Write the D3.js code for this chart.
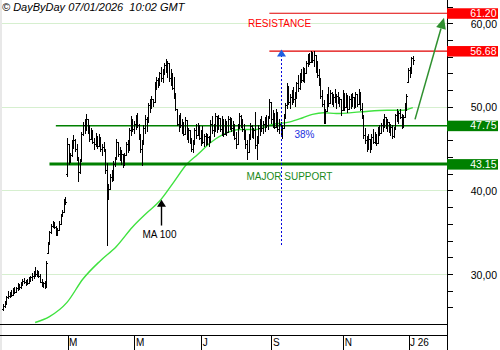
<!DOCTYPE html>
<html>
<head>
<script src="https://d3js.org/d3.v7.min.js"></script>
<style>
  body { margin: 0; background: #fff; }
  text { font-family: "Liberation Sans", Arial, sans-serif; }
</style>
</head>
<body>
<script>
// trading days shown (one bar per day)
const firstDay = "2025-01-06", lastDay = "2026-01-07";
const holidays = ["2025-04-18", "2025-05-01", "2025-12-25", "2025-12-26", "2026-01-01"];

// daily OHLC
const opens = [
  25.8,26.2,26.6,27.2,27.4,27.7,27.5,28.0,27.8,28.3, 28.6,28.4,28.9,29.2,29.0,29.1,28.9,29.4,29.6,29.8,
  30.2,30.0,30.3,29.8,29.1,28.7,28.9,28.5,32.5,33.6, 35.0,35.8,36.0,35.6,34.9,35.3,36.0,37.0,37.4,38.7,
  42.0,45.5,43.5,44.2,45.6,46.0,45.0,43.8,42.2,43.5, 46.7,47.8,47.2,48.6,47.0,46.2,47.2,45.8,45.5,46.5,
  45.3,46.4,44.9,45.2,45.0,42.5,39.5,40.2,41.6,41.3, 43.2,43.8,45.8,44.4,43.8,44.4,43.0,44.2,45.5,44.8,
  47.2,48.5,47.4,48.0,48.7,47.8,46.3,45.0,45.5,47.5, 48.6,48.2,50.2,50.5,51.0,50.6,52.8,53.2,52.6,54.0,
  53.4,54.2,55.0,54.3,55.2,53.4,54.0,52.3,51.4,49.8, 48.0,48.6,47.8,48.2,46.8,48.4,46.4,47.2,45.8,45.0,
  45.6,47.2,46.6,47.8,46.3,46.9,45.8,46.5,45.6,46.4, 45.8,48.0,47.2,47.6,48.9,47.3,48.7,47.4,48.5,46.8,
  48.3,47.0,48.6,47.9,47.5,47.9,46.3,45.5,47.8,48.9, 48.0,47.3,46.4,45.6,44.6,46.5,47.7,46.6,47.2,45.4,
  46.0,47.5,48.2,47.5,48.0,48.5,47.8,48.7,50.6,48.5, 49.3,47.6,49.4,47.3,48.0,46.8,47.5,49.0,50.2,52.4,
  50.6,51.2,51.6,50.9,51.5,52.8,52.2,53.8,53.2,54.5, 54.0,55.2,56.0,55.4,56.5,55.6,56.2,54.4,53.8,52.8,
  51.3,50.4,48.4,49.5,51.2,50.5,51.7,50.6,51.2,50.8, 51.3,50.6,50.9,49.6,51.6,50.0,51.4,49.8,51.0,50.3,
  51.2,50.0,51.5,50.4,51.6,49.8,48.8,46.6,46.0,45.0, 46.2,45.0,46.4,45.8,46.7,45.7,47.2,46.9,47.8,48.2,
  48.8,47.6,48.2,47.2,47.6,46.5,47.3,49.0,48.6,49.3, 48.8,47.6,48.8,50.2,53.0,54.4,54.2,55.8
];
const highs = [
  26.4,26.8,27.4,28.0,27.9,28.1,28.3,28.4,28.5,28.9, 28.8,29.1,29.4,29.5,29.3,29.4,29.6,29.8,30.1,30.4,
  30.8,30.5,30.4,30.0,29.4,29.0,29.2,31.6,33.8,35.2, 36.0,36.4,36.2,35.8,35.5,36.3,37.2,37.6,39.0,39.2,
  46.3,45.5,44.5,46.0,46.6,46.2,45.5,44.0,43.8,47.0, 48.2,48.5,49.1,48.6,47.8,47.5,47.2,46.3,46.9,46.5,
  46.8,46.4,45.5,45.8,45.0,43.3,40.8,42.0,42.5,43.5, 44.0,46.2,45.8,45.2,44.8,44.4,44.5,45.8,46.0,47.5,
  48.9,48.6,48.3,49.0,49.3,48.0,46.8,46.0,47.8,49.0, 48.8,50.5,51.0,51.3,51.0,53.0,53.6,53.5,54.2,54.8,
  54.5,55.2,55.7,55.5,55.3,54.5,54.0,53.6,51.6,49.8, 49.0,49.3,48.5,48.2,48.8,48.4,47.5,47.2,46.3,46.0,
  47.5,48.0,48.1,47.8,47.2,47.7,46.8,46.9,46.8,46.5, 48.4,48.9,48.0,49.3,48.9,49.0,48.7,48.9,48.5,48.6,
  48.3,48.9,48.8,48.7,48.3,48.0,47.0,48.0,49.3,49.0, 48.6,48.0,47.2,46.0,46.8,48.1,47.8,47.5,49.4,46.5,
  47.8,48.5,48.9,48.3,48.8,49.0,48.9,51.0,50.6,49.6, 49.3,49.8,49.4,48.5,48.2,47.8,49.2,50.5,52.9,52.5,
  51.5,52.0,52.4,51.8,53.0,53.8,54.1,54.5,54.8,54.6, 55.5,56.3,56.5,56.7,56.6,56.7,56.2,55.5,54.5,53.5,
  52.0,50.8,49.8,51.5,52.4,52.0,51.8,51.5,52.1,51.5, 51.8,51.2,51.0,52.0,51.6,51.7,51.4,51.3,51.5,51.6,
  51.2,51.8,51.5,52.1,51.8,50.5,49.0,47.5,46.5,46.8, 46.2,46.8,47.3,47.0,46.8,47.6,47.8,48.1,48.5,49.1,
  48.8,48.5,48.2,48.0,47.8,47.6,49.2,49.7,49.5,49.7, 49.2,49.0,50.5,51.5,54.7,54.8,56.0,56.1
];
const lows = [
  25.6,25.9,26.3,27.0,27.1,27.3,27.5,27.6,27.7,28.0, 28.1,28.2,28.6,28.8,28.6,28.7,28.8,29.0,29.2,29.4,
  29.7,29.6,29.5,28.9,28.4,28.3,28.2,28.3,32.4,33.5, 34.8,35.5,35.4,34.6,34.5,35.2,35.9,36.8,37.4,38.2,
  41.6,43.0,43.3,44.0,45.0,44.6,43.5,41.0,42.0,43.5, 46.5,46.8,47.2,46.8,45.8,46.0,45.5,44.8,45.2,45.0,
  45.3,44.6,44.1,44.6,42.0,33.3,38.8,40.0,41.0,41.3, 42.8,43.8,44.0,43.5,43.0,42.7,43.0,44.2,44.5,44.8,
  46.5,47.0,46.8,47.2,47.5,46.0,44.5,42.9,45.5,46.8, 47.0,48.2,49.3,49.8,50.0,50.6,52.0,52.3,52.5,53.0,
  52.8,53.8,54.0,53.5,53.0,52.5,52.0,51.0,49.5,47.7, 47.0,47.5,46.8,46.5,46.8,46.0,45.7,45.5,44.6,44.5,
  45.5,46.2,46.5,46.0,45.3,45.5,45.2,45.3,45.6,45.2, 45.8,46.8,46.4,47.0,46.9,47.2,47.0,46.5,46.4,46.8,
  46.5,46.9,47.2,47.0,46.5,46.0,44.9,45.5,47.3,47.5, 47.0,46.0,45.0,43.7,44.5,46.0,46.3,46.2,45.0,43.6,
  45.5,46.5,47.0,46.8,47.0,47.5,47.2,48.5,48.0,47.5, 47.3,47.6,47.0,46.8,46.5,46.1,47.3,48.5,49.8,50.2,
  49.8,50.2,50.5,50.0,51.0,51.8,52.0,52.8,53.0,52.9, 54.0,54.8,55.0,55.3,55.2,54.8,54.0,53.4,52.5,51.0,
  50.0,48.0,47.9,49.5,50.0,50.5,50.2,50.0,50.5,49.8, 50.3,50.0,48.9,49.6,49.5,50.0,49.3,49.6,49.8,50.0,
  49.7,50.0,50.0,50.4,49.5,48.5,46.2,45.5,44.6,45.0, 44.5,45.0,45.5,45.6,45.3,45.7,46.5,46.8,47.0,47.5,
  47.3,47.0,46.9,46.5,46.1,46.3,47.3,48.2,48.0,48.5, 47.3,47.5,48.8,49.5,52.9,53.5,54.2,55.0
];
const closes = [
  26.2,26.6,27.2,27.4,27.7,27.5,28.0,27.8,28.3,28.6, 28.4,28.9,29.2,29.0,29.1,28.9,29.4,29.6,29.8,30.2,
  30.0,30.3,29.8,29.1,28.7,28.9,28.5,31.3,33.6,35.0, 35.8,36.0,35.6,34.9,35.3,36.0,37.0,37.4,38.7,38.6,
  45.5,43.5,44.2,45.6,46.0,45.0,43.8,42.2,43.5,46.7, 47.8,47.2,48.6,47.0,46.2,47.2,45.8,45.5,46.5,45.3,
  46.4,44.9,45.2,45.0,42.5,39.5,40.2,41.6,41.3,43.2, 43.8,45.8,44.4,43.8,44.4,43.0,44.2,45.5,44.8,47.2,
  48.5,47.4,48.0,48.7,47.8,46.3,45.0,45.5,47.5,48.6, 48.2,50.2,50.5,51.0,50.6,52.8,53.2,52.6,54.0,53.4,
  54.2,55.0,54.3,55.2,53.4,54.0,52.3,51.4,49.8,48.0, 48.6,47.8,48.2,46.8,48.4,46.4,47.2,45.8,45.0,45.6,
  47.2,46.6,47.8,46.3,46.9,45.8,46.5,45.6,46.4,45.8, 48.0,47.2,47.6,48.9,47.3,48.7,47.4,48.5,46.8,48.3,
  47.0,48.6,47.9,47.5,47.9,46.3,45.5,47.8,48.9,48.0, 47.3,46.4,45.6,44.6,46.5,47.7,46.6,47.2,45.4,46.0,
  47.5,48.2,47.5,48.0,48.5,47.8,48.7,50.6,48.5,49.3, 47.6,49.4,47.3,48.0,46.8,47.5,49.0,50.2,52.4,50.6,
  51.2,51.6,50.9,51.5,52.8,52.2,53.8,53.2,54.5,54.0, 55.2,56.0,55.4,56.5,55.6,56.2,54.4,53.8,52.8,51.3,
  50.4,48.4,49.5,51.2,50.5,51.7,50.6,51.2,50.8,51.3, 50.6,50.9,49.6,51.6,50.0,51.4,49.8,51.0,50.3,51.2,
  50.0,51.5,50.4,51.6,49.8,48.8,46.6,46.0,45.0,46.2, 45.0,46.4,45.8,46.7,45.7,47.2,46.9,47.8,48.2,48.8,
  47.6,48.2,47.2,47.6,46.5,47.3,49.0,48.6,49.3,48.8, 47.6,48.8,50.2,51.3,54.4,54.0,55.8,55.6
];

// 100 day moving average, read at some bars (bar index / value)
const maDay   = [20, 29, 40, 50, 61, 71, 81, 90, 98, 107, 115, 122, 130, 138, 149, 159, 169, 180, 188, 194, 201, 209, 224, 241, 251, 257];
const maValue = [24.2, 24.9, 26.6, 29.4, 31.6, 33.3, 35.6, 37.3, 38.7, 41.0, 43.1, 44.3, 45.7, 46.7, 47.3, 47.3, 47.9, 48.2, 48.7, 49.1, 49.3, 49.2, 49.4, 49.6, 49.6, 49.9];

// support / resistance levels
const levels      = [61.20, 56.68, 47.75, 43.15];
const levelLabels = ["61.20", "56.68", "47.75", "43.15"];
const levelStart  = [167, 167, 33, 29];

// retracement from the spike low to the top
const fibDay = 174, fibLow = 33.3, fibHigh = 56.68;

const yLabelValues = [30, 40, 50, 60];
const yLabels = ["30,00", "40,00", "50,00", "60,00"];
const monthStarts = ["2025-03-01", "2025-05-01", "2025-07-01", "2025-09-01", "2025-11-01", "2026-01-01"];
const monthLabels = ["M", "M", "J", "S", "N", "J 26"];

// ---- layout
const W = 500, H = 350;
const plotRight = 447, plotBottom = 324, axisTop = 335;

const days = d3.utcDay.range(new Date(firstDay), d3.utcDay.offset(new Date(lastDay), 1))
  .filter(d => d.getUTCDay() % 6 !== 0 && !holidays.includes(d.toISOString().slice(0, 10)));
const n = Math.min(days.length, closes.length);

const x = d3.scaleLinear().domain([40, 254]).range([67, 408]);
const y = d3.scaleLinear().domain([30, 60]).range([274, 23.3]);

const svg = d3.select("body").append("svg")
  .attr("width", W).attr("height", H);

svg.append("defs").append("clipPath").attr("id", "plot")
  .append("rect").attr("x", 0).attr("y", 0).attr("width", plotRight).attr("height", plotBottom);

// left edge
svg.append("rect").attr("x", 0).attr("y", 0).attr("width", 2).attr("height", H).attr("fill", "#e8e8e8");

// grid
svg.append("g").selectAll("line").data(yLabelValues).join("line")
  .attr("x1", 2).attr("x2", plotRight)
  .attr("y1", d => Math.round(y(d)) + 0.5).attr("y2", d => Math.round(y(d)) + 0.5)
  .attr("stroke", "#d6efcf");

// header
svg.append("text").attr("x", 2).attr("y", 10.5)
  .attr("font-size", 11).attr("font-style", "italic")
  .style("white-space", "pre")
  .text("© DayByDay 07/01/2026  10:02 GMT");

const plot = svg.append("g").attr("clip-path", "url(#plot)");

// moving average
const maLine = d3.line()
  .x((d, i) => x(maDay[i]))
  .y(d => y(d))
  .curve(d3.curveMonotoneX);
plot.append("path").datum(maValue)
  .attr("d", maLine)
  .attr("fill", "none").attr("stroke", "#3fe23f").attr("stroke-width", 1.4);

// level lines
const levelColor = ["#e00000", "#e00000", "#008000", "#008000"];
const levelWidth = [1.2, 1.2, 1.5, 3];
plot.append("g").selectAll("line").data(levels).join("line")
  .attr("x1", (d, i) => x(levelStart[i])).attr("x2", plotRight)
  .attr("y1", d => y(d)).attr("y2", d => y(d))
  .attr("stroke", (d, i) => levelColor[i]).attr("stroke-width", (d, i) => levelWidth[i]);

// OHLC bars
plot.append("g").attr("stroke", "#000").attr("shape-rendering", "crispEdges")
  .selectAll("path").data(d3.range(n)).join("path")
  .attr("d", i => {
    const cx = Math.round(x(i)) + 0.5;
    const yo = Math.round(y(opens[i])) + 0.5, yc = Math.round(y(closes[i])) + 0.5;
    return `M${cx},${y(highs[i])}V${y(lows[i])}M${cx - 1.5},${yo}H${cx}M${cx},${yc}H${cx + 1.5}`;
  });

// retracement marker
const fx = Math.round(x(fibDay)) + 0.5;
plot.append("line")
  .attr("x1", fx).attr("x2", fx).attr("y1", y(fibHigh)).attr("y2", y(fibLow))
  .attr("stroke", "#0000dd").attr("stroke-dasharray", "2,2");
plot.append("path")
  .attr("d", `M${fx},${y(fibHigh) - 1.5}L${fx + 4.5},${y(fibHigh) + 5.5}L${fx - 4.5},${y(fibHigh) + 5.5}Z`)
  .attr("fill", "#1f5fe0");

svg.append("text").attr("x", fx + 23).attr("y", y(levels[2]) + 12)
  .attr("text-anchor", "middle").attr("font-size", 10).attr("fill", "#2030e0")
  .text("38%");
svg.append("text").attr("x", fx + 8).attr("y", y(levels[3]) + 15.5)
  .attr("text-anchor", "middle").attr("font-size", 10).attr("fill", "#1a8a1a")
  .text("MAJOR SUPPORT");
svg.append("text").attr("x", fx - 2).attr("y", y(levels[0]) + 13.8)
  .attr("text-anchor", "middle").attr("font-size", 10).attr("fill", "#ff0000")
  .text("RESISTANCE");

// MA 100 pointer
const maNoteDay = 99, maNoteTip = 38.9, maNoteTail = 35.8;
const mx = Math.round(x(maNoteDay)) + 0.5, my = y(maNoteTip);
svg.append("path")
  .attr("d", `M${mx},${my}L${mx + 4.5},${my + 7}L${mx - 4.5},${my + 7}Z`).attr("fill", "#000");
svg.append("line").attr("x1", mx).attr("x2", mx).attr("y1", my + 6).attr("y2", y(maNoteTail))
  .attr("stroke", "#000").attr("stroke-width", 1.4);
svg.append("text").attr("x", mx - 2).attr("y", y(maNoteTail) + 12.5)
  .attr("text-anchor", "middle").attr("font-size", 10).text("MA 100");

// target arrow
const arrowFrom = [258.4, 48.5], arrowTo = [276.6, 60.65];
const ax1 = x(arrowFrom[0]), ay1 = y(arrowFrom[1]), ax2 = x(arrowTo[0]), ay2 = y(arrowTo[1]);
const ang = Math.atan2(ay2 - ay1, ax2 - ax1);
const hl = 11, hw = 5;
const bx = ax2 - hl * Math.cos(ang), by = ay2 - hl * Math.sin(ang);
svg.append("line").attr("x1", ax1).attr("y1", ay1).attr("x2", bx).attr("y2", by)
  .attr("stroke", "#2f902f").attr("stroke-width", 1.5);
svg.append("path")
  .attr("d", `M${ax2},${ay2}L${bx + hw * Math.sin(ang)},${by - hw * Math.cos(ang)}L${bx - hw * Math.sin(ang)},${by + hw * Math.cos(ang)}Z`)
  .attr("fill", "#2f902f");

// right axis
const yAxis = svg.append("g").attr("transform", `translate(${plotRight + 0.5},0)`)
  .call(d3.axisRight(y).tickValues(d3.range(26, 63, 2)).tickSize(5).tickFormat(""));
yAxis.select(".domain").remove();
yAxis.selectAll("line").attr("shape-rendering", "crispEdges");
svg.append("line").attr("x1", plotRight + 0.5).attr("x2", plotRight + 0.5).attr("y1", 0).attr("y2", H)
  .attr("stroke", "#000");

svg.append("g").selectAll("text").data(yLabelValues).join("text")
  .attr("x", 497).attr("y", d => y(d) + 4.5)
  .attr("text-anchor", "end").attr("font-size", 10.5)
  .text((d, i) => yLabels[i]);

// level value boxes
const boxColor = ["#ff0000", "#ff0000", "#008000", "#008000"];
const boxes = svg.append("g").selectAll("g").data(levels).join("g");
boxes.append("rect")
  .attr("x", plotRight).attr("y", d => y(d) - 5).attr("width", 51).attr("height", 10.5)
  .attr("fill", (d, i) => boxColor[i]);
boxes.append("text")
  .attr("x", 496.5).attr("y", d => y(d) + 3.6)
  .attr("text-anchor", "end").attr("font-size", 10.5).attr("fill", "#fff")
  .text((d, i) => levelLabels[i]);

// bottom frame + months
svg.append("g").attr("stroke", "#000").attr("shape-rendering", "crispEdges")
  .selectAll("line").data([plotBottom, axisTop]).join("line")
  .attr("x1", 0).attr("x2", plotRight).attr("y1", d => d + 0.5).attr("y2", d => d + 0.5);

const monthIdx = monthStarts.map(m => days.findIndex(d => d >= new Date(m)));
const xAxis = svg.append("g").attr("transform", `translate(0,${axisTop})`)
  .call(d3.axisBottom(x).tickValues(monthIdx).tickSize(15).tickFormat((d, i) => monthLabels[i]));
xAxis.select(".domain").remove();
xAxis.selectAll(".tick line").attr("shape-rendering", "crispEdges")
  .attr("transform", "translate(0.5,0)");
xAxis.selectAll(".tick text")
  .attr("text-anchor", "start").attr("x", 1.5).attr("y", 4).attr("dy", "0.71em")
  .attr("font-size", 10).attr("font-family", "Liberation Sans, Arial, sans-serif");
</script>
</body>
</html>
